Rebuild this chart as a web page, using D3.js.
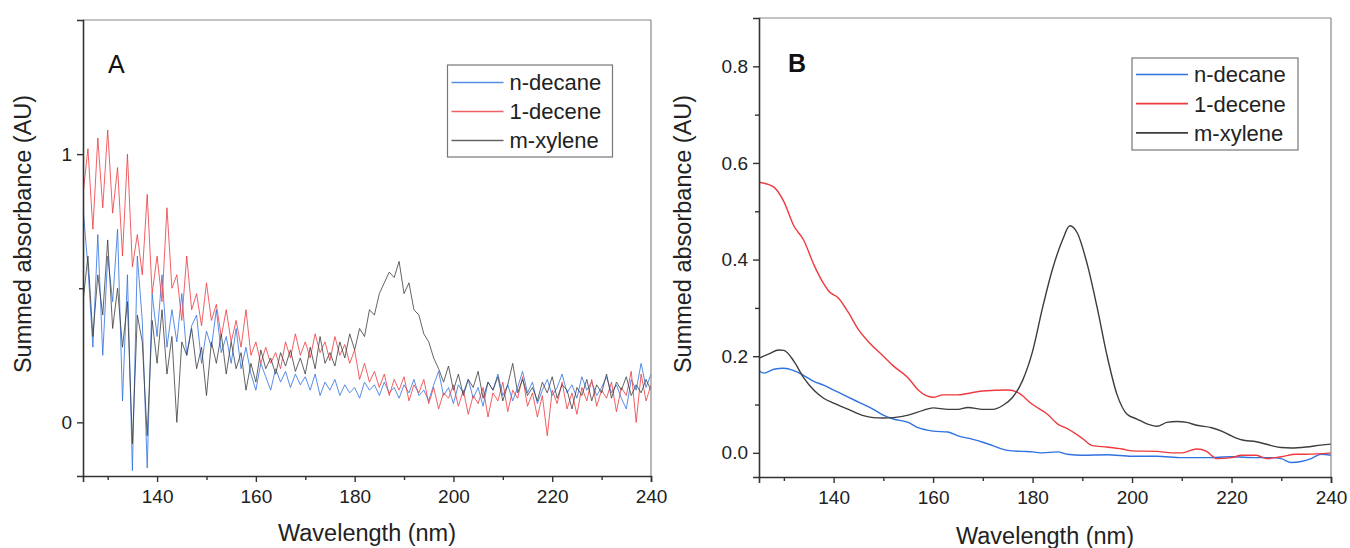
<!DOCTYPE html>
<html><head><meta charset="utf-8">
<script src="https://cdn.jsdelivr.net/npm/d3@7/dist/d3.min.js"></script>
<style>body{margin:0;background:#fff}svg{display:block;font-family:"Liberation Sans",Arial,sans-serif}</style>
</head><body><svg id="c" width="1350" height="548"></svg>
<script>
// ---------- Data ----------
const seriesNames = ["n-decane", "1-decene", "m-xylene"];
const seriesColors = ["#2f72e0", "#ee3a3f", "#3d3d3d"];

// Panel A: raw (noisy) summed absorbance, 1 nm grid 125..240
const wavelengthsA = d3.range(125, 241, 1);
const aDecane = [0.80,0.58,0.28,0.70,0.25,0.62,0.45,0.72,0.08,0.55,-0.18,0.62,0.38,-0.17,0.48,0.32,0.55,0.28,0.42,0.30,
0.48,0.25,0.36,0.40,0.22,0.34,0.28,0.42,0.26,0.32,0.22,0.35,0.20,0.28,0.18,0.12,0.22,0.17,0.12,0.20,
0.15,0.19,0.13,0.18,0.14,0.17,0.12,0.18,0.10,0.15,0.12,0.16,0.10,0.14,0.11,0.13,0.09,0.15,0.12,0.14,
0.10,0.15,0.11,0.13,0.09,0.14,0.11,0.16,0.10,0.12,0.08,0.14,0.19,0.10,0.13,0.07,0.14,0.11,0.16,0.09,
0.13,0.06,0.15,0.12,0.18,0.10,0.14,0.08,0.13,0.19,0.11,0.15,0.07,0.12,0.16,0.10,0.13,0.18,0.11,0.14,
0.09,0.17,0.12,0.15,0.10,0.13,0.17,0.11,0.14,0.09,0.05,0.16,0.12,0.22,0.13,0.18];
const aDecene = [0.85,1.02,0.72,1.06,0.80,1.09,0.78,0.95,0.62,1.00,0.58,0.70,0.55,0.85,0.48,0.62,0.45,0.80,0.50,0.55,
0.38,0.62,0.42,0.48,0.36,0.52,0.38,0.44,0.32,0.42,0.30,0.38,0.28,0.42,0.25,0.30,0.22,0.28,0.22,0.26,
0.20,0.30,0.24,0.33,0.25,0.30,0.24,0.33,0.26,0.30,0.23,0.32,0.25,0.29,0.22,0.27,0.16,0.22,0.15,0.19,
0.13,0.18,0.10,0.16,0.12,0.17,0.08,0.14,0.11,0.16,0.07,0.13,0.05,0.11,0.09,0.14,0.06,0.12,0.03,0.10,
0.07,0.13,0.02,0.11,0.08,0.15,0.04,0.12,0.09,0.17,0.06,0.11,0.02,0.10,-0.05,0.12,0.07,0.15,0.05,0.11,
0.03,0.13,0.08,0.16,0.06,0.12,0.09,0.15,0.04,0.13,0.10,0.19,0.00,0.18,0.08,0.14];
const aXylene = [0.45,0.62,0.32,0.55,0.40,0.68,0.35,0.50,0.28,0.45,-0.08,0.40,0.30,-0.05,0.38,0.22,0.42,0.18,0.32,0.00,
0.30,0.25,0.35,0.20,0.28,0.10,0.30,0.22,0.33,0.18,0.30,0.20,0.26,0.12,0.22,0.15,0.27,0.20,0.24,0.18,
0.26,0.21,0.27,0.19,0.24,0.18,0.28,0.20,0.32,0.22,0.26,0.21,0.30,0.24,0.33,0.27,0.35,0.32,0.42,0.40,
0.48,0.52,0.56,0.54,0.60,0.48,0.52,0.42,0.40,0.33,0.30,0.24,0.20,0.15,0.21,0.12,0.18,0.10,0.16,0.13,
0.19,0.09,0.15,0.12,0.17,0.08,0.14,0.22,0.11,0.16,0.10,0.13,0.08,0.15,0.11,0.17,0.09,0.14,0.12,0.05,
0.13,0.10,0.16,0.08,0.14,0.11,0.18,0.09,0.15,0.12,0.17,0.10,0.14,0.11,0.16,0.12];

// Panel B: smoothed summed absorbance
const bDecaneX = [125,126,128,130,132,134,136,138,140,142,145,148,150,152,155,157,160,163,165,168,170,172,175,178,180,182,185,187,190,195,200,205,210,215,220,225,228,230,232,234,236,238,240];
const bDecaneY = [0.170,0.165,0.173,0.175,0.170,0.160,0.148,0.140,0.130,0.120,0.105,0.090,0.078,0.070,0.063,0.052,0.045,0.043,0.035,0.028,0.022,0.015,0.005,0.003,0.002,0.000,0.002,-0.003,-0.005,-0.004,-0.007,-0.007,-0.010,-0.010,-0.008,-0.010,-0.010,-0.012,-0.020,-0.018,-0.012,-0.003,-0.005];
const bDeceneX = [125,127,128,130,132,134,136,138,139,141,143,145,147,150,152,155,157,160,162,165,168,170,175,177,180,183,185,187,190,192,195,198,200,205,208,210,213,215,217,220,222,225,227,230,233,235,240];
const bDeceneY = [0.560,0.555,0.550,0.520,0.470,0.440,0.390,0.350,0.335,0.320,0.290,0.255,0.230,0.200,0.180,0.155,0.130,0.115,0.120,0.120,0.125,0.128,0.130,0.125,0.100,0.080,0.060,0.050,0.030,0.015,0.012,0.008,0.004,0.003,0.000,0.000,0.008,0.003,-0.012,-0.010,-0.005,-0.005,-0.012,-0.008,-0.003,-0.003,0.000];
const bXyleneX = [125,127,129,130,132,134,136,138,140,143,146,148,150,152,155,158,160,163,165,167,170,172,174,176,178,180,182,184,186,187.5,189,191,193,195,197,199,201,203,205,207,209,211,213,216,218,220,222,225,228,230,232,235,238,240];
const bXyleneY = [0.196,0.205,0.213,0.212,0.190,0.155,0.130,0.113,0.103,0.090,0.077,0.073,0.072,0.073,0.078,0.088,0.093,0.090,0.090,0.094,0.090,0.090,0.098,0.115,0.150,0.210,0.300,0.380,0.440,0.470,0.455,0.390,0.300,0.200,0.120,0.080,0.070,0.060,0.055,0.063,0.065,0.063,0.057,0.052,0.045,0.035,0.027,0.023,0.015,0.011,0.010,0.012,0.016,0.018];

const xTicks = [140,160,180,200,220,240];
const xMinorTicks = [130,150,170,190,210,230];
const yTicksA = [0,1];
const yMinorA = [0.5];
const yTicksB = [0.0,0.2,0.4,0.6,0.8];
const yMinorB = [0.1,0.3,0.5,0.7];

// ---------- Drawing ----------
const svg = d3.select("#c");
const axisColor = "#333";

function panel(opts){
  const g = svg.append("g");
  const x = d3.scaleLinear().domain([125,240]).range([opts.left, opts.right]);
  const y = d3.scaleLinear().domain(opts.ydom).range([opts.bottom, opts.top]);
  const clipId = "clip" + opts.id;
  svg.append("clipPath").attr("id", clipId).append("rect")
    .attr("x", opts.left).attr("y", opts.top).attr("width", opts.right-opts.left).attr("height", opts.bottom-opts.top);

  // series
  const line = d3.line().x(d=>x(d[0])).y(d=>y(d[1])).curve(opts.curve);
  opts.series.forEach((s,i)=>{
    g.append("path").datum(s.x.map((v,j)=>[v,s.y[j]]))
      .attr("d", line).attr("fill","none")
      .attr("stroke", seriesColors[i]).attr("stroke-width", opts.lw)
      .attr("stroke-opacity", opts.op).attr("stroke-linejoin","round")
      .attr("clip-path", `url(#${clipId})`);
  });

  // frame (top & right)
  g.append("line").attr("x1",opts.left).attr("x2",opts.right).attr("y1",opts.top).attr("y2",opts.top).attr("stroke","#888").attr("stroke-width",1.2);
  g.append("line").attr("x1",opts.right).attr("x2",opts.right).attr("y1",opts.top).attr("y2",opts.bottom).attr("stroke","#888").attr("stroke-width",1.2);

  // bottom axis
  const xa = g.append("g").attr("transform",`translate(0,${opts.bottom})`)
    .call(d3.axisBottom(x).tickValues(xTicks).tickSize(6).tickPadding(8).tickFormat(d3.format("d")));
  const xm = g.append("g").attr("transform",`translate(0,${opts.bottom})`)
    .call(d3.axisBottom(x).tickValues(xMinorTicks).tickSize(4).tickFormat(""));
  xm.select(".domain").remove();
  // left axis
  const ya = g.append("g").attr("transform",`translate(${opts.left},0)`)
    .call(d3.axisLeft(y).tickValues(opts.yTicks).tickSize(6).tickPadding(5).tickFormat(opts.yfmt));
  const ym = g.append("g").attr("transform",`translate(${opts.left},0)`)
    .call(d3.axisLeft(y).tickValues(opts.yMinor).tickSize(4).tickFormat(""));
  ym.select(".domain").remove();
  [xa,xm,ya,ym].forEach(a=>{
    a.selectAll(".domain").attr("stroke",axisColor).attr("stroke-width",1.6);
    a.selectAll(".tick line").attr("stroke",axisColor).attr("stroke-width",1.4);
    a.selectAll("text").attr("font-size",19).attr("fill","#222").attr("font-family","Liberation Sans, Arial, sans-serif");
  });

  // titles
  g.append("text").attr("x",(opts.left+opts.right)/2).attr("y",opts.xTitleY)
    .attr("text-anchor","middle").attr("font-size",23.5).attr("fill","#222").text("Wavelength (nm)");
  g.append("text").attr("transform",`translate(${opts.yTitleX},${opts.yTitleCY}) rotate(-90)`)
    .attr("text-anchor","middle").attr("font-size",23.5).attr("fill","#222").text("Summed absorbance (AU)");
  g.append("text").attr("x",opts.labelX).attr("y",opts.labelY).attr("font-size",25)
    .attr("font-weight",opts.labelWeight).attr("fill","#111").text(opts.label);

  // legend
  const L = opts.legend;
  g.append("rect").attr("x",L.x).attr("y",L.y).attr("width",L.w).attr("height",L.h)
    .attr("fill","#fff").attr("stroke","#777").attr("stroke-width",1.2);
  seriesNames.forEach((n,i)=>{
    const cy = L.y + L.r0 + i*L.dy;
    g.append("line").attr("x1",L.x+4).attr("x2",L.x+56).attr("y1",cy).attr("y2",cy)
      .attr("stroke",seriesColors[i]).attr("stroke-width",opts.lw+0.3).attr("stroke-opacity",opts.op);
    g.append("text").attr("x",L.x+62).attr("y",cy).attr("dy","0.36em")
      .attr("font-size",22).attr("fill","#222").text(n);
  });
}

panel({id:"A", left:83, right:651, top:20, bottom:476, ydom:[-0.2,1.5],
  series:[{x:wavelengthsA,y:aDecane},{x:wavelengthsA,y:aDecene},{x:wavelengthsA,y:aXylene}],
  curve:d3.curveLinear, lw:1, op:0.8, yTicks:yTicksA, yMinor:yMinorA, yfmt:d3.format("d"),
  xTitleY:541, yTitleX:31, yTitleCY:234, label:"A", labelX:108, labelY:73, labelWeight:"normal",
  legend:{x:447.5, y:65, w:165, h:92, r0:17.5, dy:29}});

panel({id:"B", left:759, right:1331, top:18, bottom:477, ydom:[-0.05,0.9],
  series:[{x:bDecaneX,y:bDecaneY},{x:bDeceneX,y:bDeceneY},{x:bXyleneX,y:bXyleneY}],
  curve:d3.curveMonotoneX, lw:1.4, op:1, yTicks:yTicksB, yMinor:yMinorB, yfmt:d3.format(".1f"),
  xTitleY:544, yTitleX:691, yTitleCY:234, label:"B", labelX:788, labelY:72, labelWeight:"bold",
  legend:{x:1132, y:58, w:166, h:92, r0:16.5, dy:29.2}});
</script></body></html>
